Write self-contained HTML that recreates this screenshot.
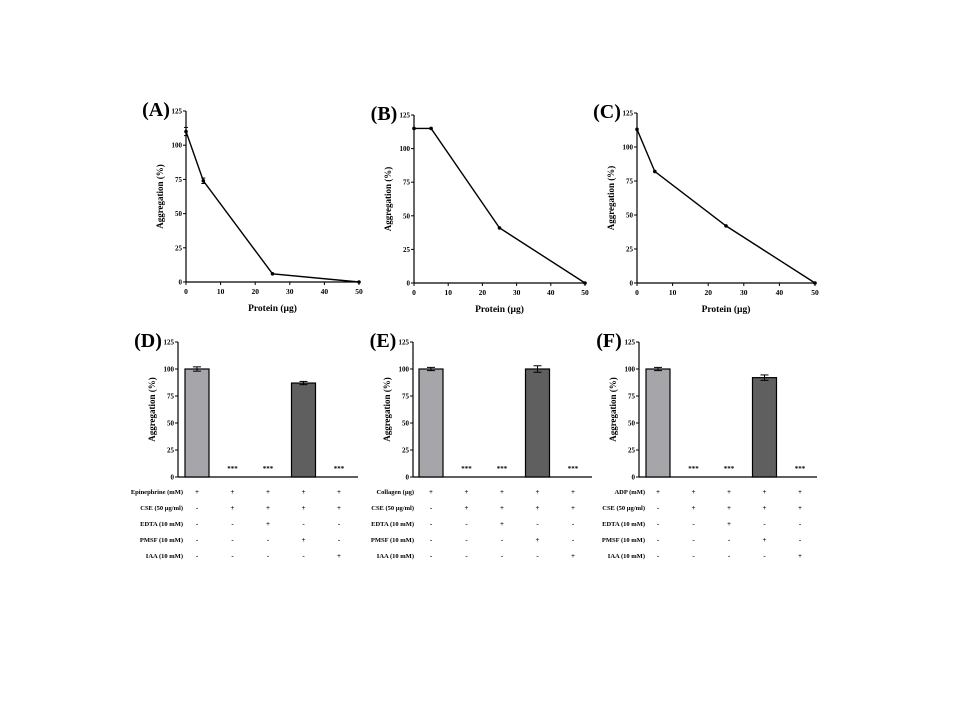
<!DOCTYPE html>
<html><head><meta charset="utf-8"><style>
body{margin:0;background:#fff;}
svg{display:block;font-family:"Liberation Serif",serif;font-weight:bold;}
</style></head><body>
<svg id="c" width="960" height="720"></svg>
<script>
const lineX=[0,5,25,50];
const lineA=[110,74,6,0];
const lineB=[115,115,41,0];
const lineC=[113,82,42,0];
const errA=[3,2,0,0];
const errB=[0,0,0,0];
const errC=[0,0,0,0];
const xTicks=[0,10,20,30,40,50];
const yTicks=[0,25,50,75,100,125];
const barD=[100,0,0,87,0];
const barE=[100,0,0,100,0];
const barF=[100,0,0,92,0];
const errD=[2,0,0,1.5,0];
const errE=[1.5,0,0,3,0];
const errF=[1.5,0,0,2.5,0];
const rowsD=["Epinephrine (mM)","CSE (50 µg/ml)","EDTA (10 mM)","PMSF (10 mM)","IAA (10 mM)"];
const rowsE=["Collagen (µg)","CSE (50 µg/ml)","EDTA (10 mM)","PMSF (10 mM)","IAA (10 mM)"];
const rowsF=["ADP (mM)","CSE (50 µg/ml)","EDTA (10 mM)","PMSF (10 mM)","IAA (10 mM)"];
const signs=[["+","+","+","+","+"],["-","+","+","+","+"],["-","-","+","-","-"],["-","-","-","+","-"],["-","-","-","-","+"]];
const NS="http://www.w3.org/2000/svg";
const svg=document.getElementById('c');
function el(t,a,txt){const e=document.createElementNS(NS,t);for(const k in a)e.setAttribute(k,a[k]);if(txt!==undefined)e.textContent=txt;svg.appendChild(e);return e;}
function yAxis(x0,top,bot,ymax,titleX,pname){
 const y=v=>bot-(v/ymax)*(bot-top);
 let a=el('line',{x1:x0,y1:top,x2:x0,y2:bot,stroke:'#000','stroke-width':1.2});
 
 yTicks.forEach(t=>{el('line',{x1:x0-3,y1:y(t),x2:x0,y2:y(t),stroke:'#000'});
  let l=el('text',{x:x0-4,y:y(t)+2.5,'font-size':7,'text-anchor':'end'},t);
  });
 let tt=el('text',{x:titleX,y:(top+bot)/2,'font-size':9,'text-anchor':'middle',transform:`rotate(-90 ${titleX} ${(top+bot)/2})`},'Aggregation (%)');
 
 return y;
}
function letter(x,y,s,pname){let t=el('text',{x:x,y:y,'font-size':20,'text-anchor':'middle'},s);
 }
function linePanel(p){
 const y=yAxis(p.x0,p.top,p.bot,125,p.x0-23,p.name);
 const x=v=>p.x0+v/50*(p.x1-p.x0);
 let ax=el('line',{x1:p.x0,y1:p.bot,x2:p.x1,y2:p.bot,stroke:'#000','stroke-width':1.2});
 
 xTicks.forEach(t=>{el('line',{x1:x(t),y1:p.bot,x2:x(t),y2:p.bot+3,stroke:'#000'});
  let l=el('text',{x:x(t),y:p.bot+12,'font-size':7.5,'text-anchor':'middle'},t);
  });
 let xt=el('text',{x:(p.x0+p.x1)/2,y:p.bot+29,'font-size':9.5,'text-anchor':'middle'},'Protein (µg)');
 
 let pts=lineX.map((v,i)=>x(v)+','+y(p.vals[i])).join(' ');
 let pl=el('polyline',{points:pts,fill:'none',stroke:'#000','stroke-width':1.4});
 
 lineX.forEach((v,i)=>{
  if(p.err[i]>0){el('line',{x1:x(v),y1:y(p.vals[i]+p.err[i]),x2:x(v),y2:y(p.vals[i]-p.err[i]),stroke:'#000'});
   el('line',{x1:x(v)-2,y1:y(p.vals[i]+p.err[i]),x2:x(v)+2,y2:y(p.vals[i]+p.err[i]),stroke:'#000'});
   el('line',{x1:x(v)-2,y1:y(p.vals[i]-p.err[i]),x2:x(v)+2,y2:y(p.vals[i]-p.err[i]),stroke:'#000'});}
  let c=el('circle',{cx:x(v),cy:y(p.vals[i]),r:1.8,fill:'#000'});
  });
 letter(p.x0-30,p.top+5,p.letter,p.name);
}
function barPanel(p){
 const top=342,bot=477;
 const y=yAxis(p.x0,top,bot,125,p.x0-23,p.name);
 let ax=el('line',{x1:p.x0,y1:bot,x2:p.x1,y2:bot,stroke:'#000','stroke-width':1.2});
 
 const cx=i=>p.c0+i*35.5;
 p.vals.forEach((v,i)=>{
  if(v>0){let b=el('rect',{x:cx(i)-12,y:y(v),width:24,height:bot-y(v),fill:i===3?'#5f5f5f':'#a6a6aa',stroke:'#000','stroke-width':1.2});
   
   const e=p.err[i];
   el('line',{x1:cx(i),y1:y(v+e),x2:cx(i),y2:y(v-e),stroke:'#000'});
   el('line',{x1:cx(i)-4,y1:y(v+e),x2:cx(i)+4,y2:y(v+e),stroke:'#000'});
   el('line',{x1:cx(i)-4,y1:y(v-e),x2:cx(i)+4,y2:y(v-e),stroke:'#000'});
  } else {let s=el('text',{x:cx(i),y:bot-6,'font-size':7,'text-anchor':'middle'},'***');
   }
 });
 p.rows.forEach((r,j)=>{const yy=494+j*16;
  let l=el('text',{x:p.lx,y:yy,'font-size':6.5,'text-anchor':'end'},r);
  
  signs[j].forEach((s,i)=>{let t=el('text',{x:cx(i),y:yy,'font-size':7,'text-anchor':'middle'},s);
   });
 });
 letter(p.x0-30,top+5,p.letter,p.name);
}
linePanel({name:'panel-a',letter:'(A)',x0:186,x1:359,top:111,bot:282,vals:lineA,err:errA});
linePanel({name:'panel-b',letter:'(B)',x0:414,x1:585,top:115,bot:283,vals:lineB,err:errB});
linePanel({name:'panel-c',letter:'(C)',x0:637,x1:815,top:113,bot:283,vals:lineC,err:errC});
barPanel({name:'panel-d',letter:'(D)',x0:178,x1:358,c0:197,lx:183,vals:barD,err:errD,rows:rowsD});
barPanel({name:'panel-e',letter:'(E)',x0:413,x1:592,c0:431,lx:414,vals:barE,err:errE,rows:rowsE});
barPanel({name:'panel-f',letter:'(F)',x0:639,x1:817,c0:658,lx:645,vals:barF,err:errF,rows:rowsF});
</script>
</body></html>
